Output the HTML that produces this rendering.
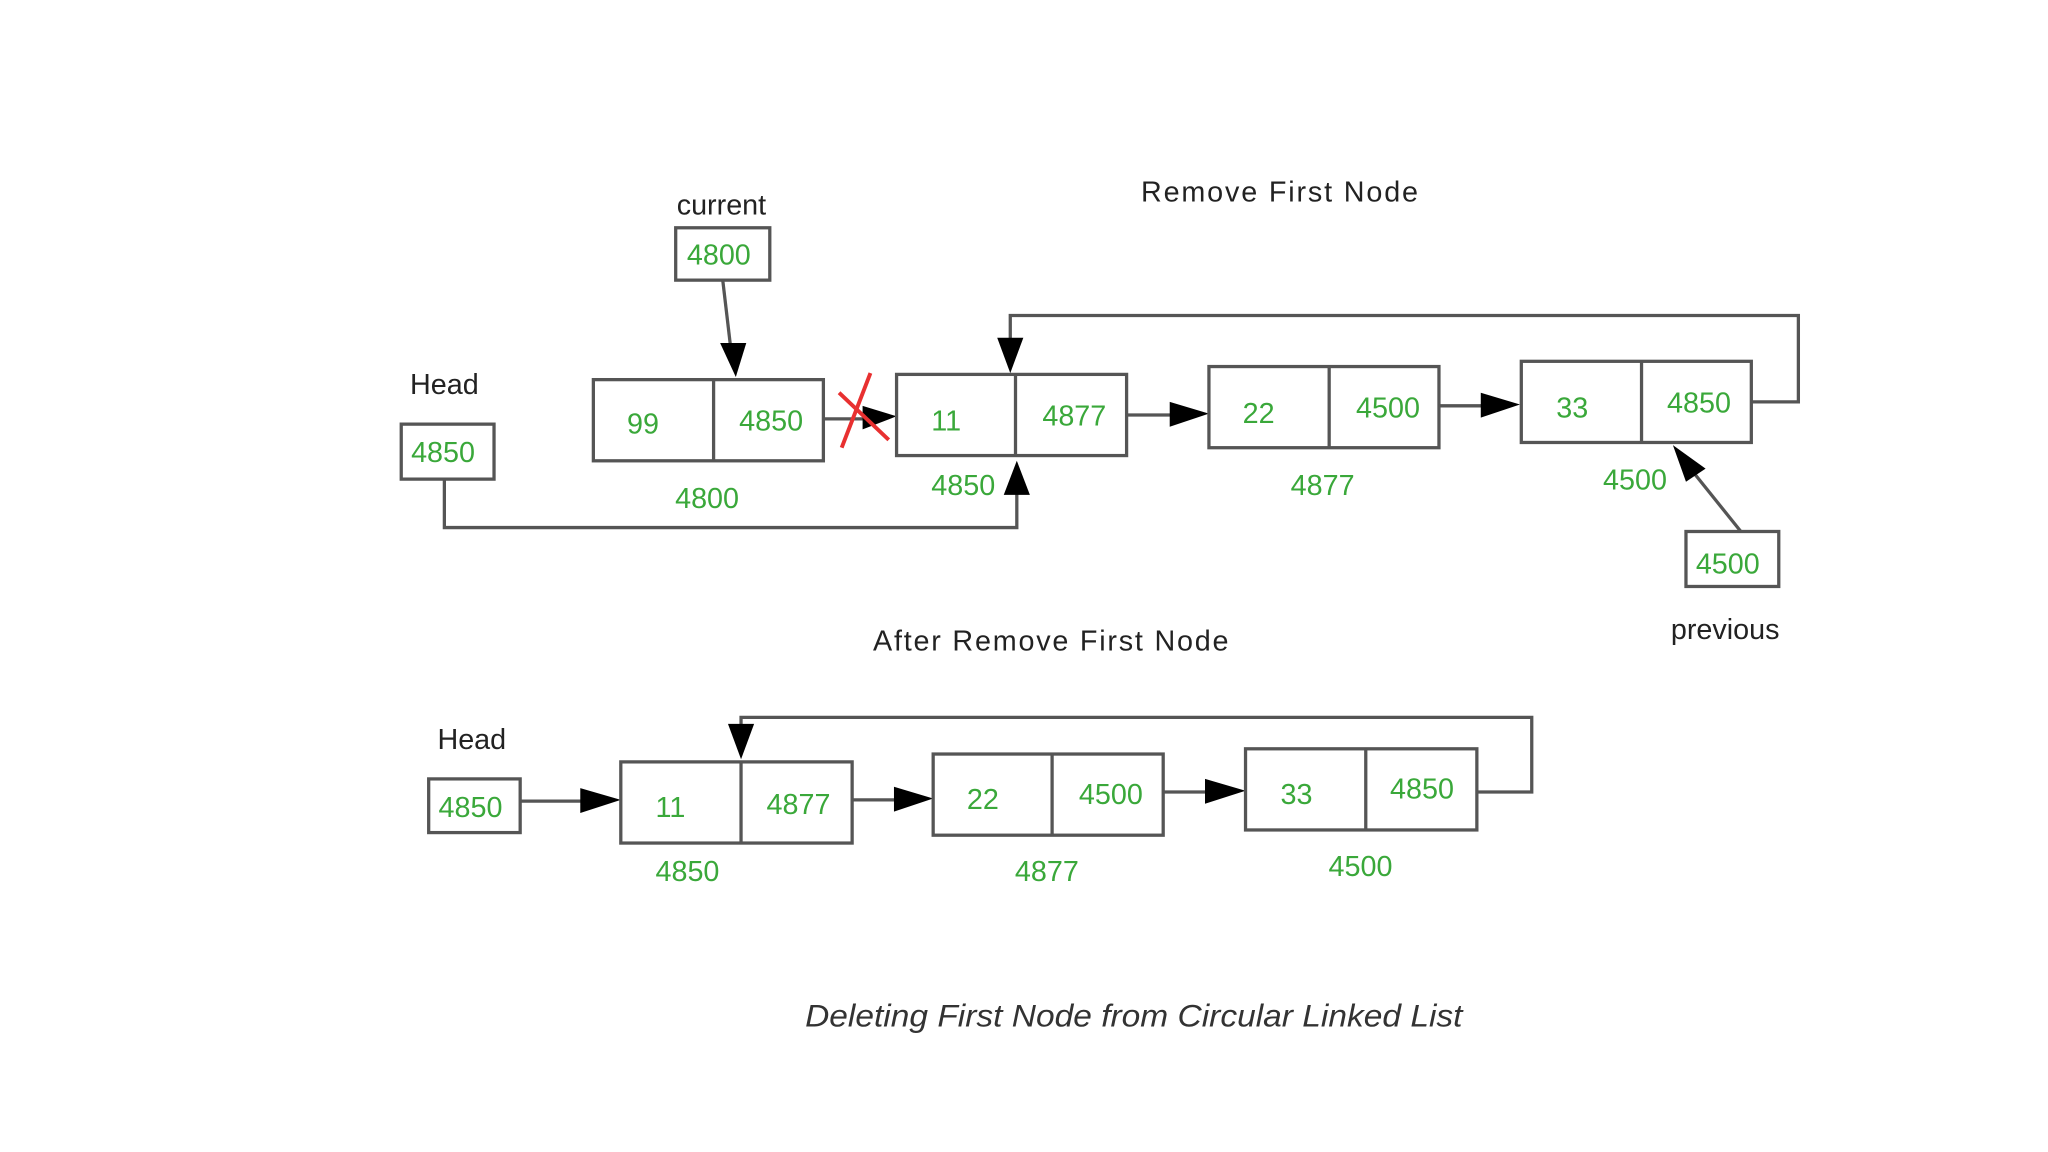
<!DOCTYPE html>
<html><head><meta charset="utf-8"><style>
html,body{margin:0;padding:0;background:#fff;}
svg{display:block;}
text{font-family:"Liberation Sans",sans-serif;}
.g{fill:#3aa83a;font-size:22px;}
.k{fill:#222;font-size:22px;}
.b{fill:#fff;stroke:#555;stroke-width:2.5;}
.l{stroke:#555;stroke-width:2.5;fill:none;}
</style></head><body>
<svg width="2048" height="1152" viewBox="0 0 1567 880" preserveAspectRatio="none" xmlns="http://www.w3.org/2000/svg">
<rect width="1567" height="880" fill="#fff"/>
<!-- TOP -->
<text class="k" x="873" y="154" textLength="212">Remove First Node</text>
<text class="k" x="552" y="164" text-anchor="middle">current</text>
<rect class="b" x="517" y="174" width="72" height="40"/>
<text class="g" x="550" y="202" text-anchor="middle">4800</text>
<line class="l" x1="553" y1="214" x2="559" y2="265"/>
<polygon points="551,262 571,262 563,288" fill="#000"/>

<text class="k" x="340" y="301" text-anchor="middle">Head</text>
<rect class="b" x="307" y="324" width="71" height="42"/>
<text class="g" x="339" y="353" text-anchor="middle">4850</text>
<polyline class="l" points="340,366 340,403 778,403 778,375"/>
<polygon points="768,378 788,378 778,352" fill="#000"/>

<rect class="b" x="454" y="290" width="176" height="62"/>
<line class="l" x1="546" y1="290" x2="546" y2="352"/>
<text class="g" x="492" y="331" text-anchor="middle">99</text>
<text class="g" x="590" y="329" text-anchor="middle">4850</text>
<text class="g" x="541" y="388" text-anchor="middle">4800</text>

<line class="l" x1="630" y1="320" x2="664" y2="320"/>
<polygon points="660,310 686,318 660,328" fill="#000"/>
<line x1="666" y1="285" x2="644" y2="342" stroke="#e83030" stroke-width="3"/>
<line x1="642" y1="300" x2="680" y2="336" stroke="#e83030" stroke-width="3"/>

<rect class="b" x="686" y="286" width="176" height="62"/>
<line class="l" x1="777" y1="286" x2="777" y2="348"/>
<text class="g" x="724" y="329" text-anchor="middle">11</text>
<text class="g" x="822" y="325" text-anchor="middle">4877</text>
<text class="g" x="737" y="378" text-anchor="middle">4850</text>

<line class="l" x1="862" y1="317" x2="900" y2="317"/>
<polygon points="895,307 925,316 895,326" fill="#000"/>

<rect class="b" x="925" y="280" width="176" height="62"/>
<line class="l" x1="1017" y1="280" x2="1017" y2="342"/>
<text class="g" x="963" y="323" text-anchor="middle">22</text>
<text class="g" x="1062" y="319" text-anchor="middle">4500</text>
<text class="g" x="1012" y="378" text-anchor="middle">4877</text>

<line class="l" x1="1101" y1="310" x2="1138" y2="310"/>
<polygon points="1133,300 1163,309 1133,319" fill="#000"/>

<rect class="b" x="1164" y="276" width="176" height="62"/>
<line class="l" x1="1256" y1="276" x2="1256" y2="338"/>
<text class="g" x="1203" y="319" text-anchor="middle">33</text>
<text class="g" x="1300" y="315" text-anchor="middle">4850</text>
<text class="g" x="1251" y="374" text-anchor="middle">4500</text>

<polyline class="l" points="1340,307 1376,307 1376,241 773,241 773,262"/>
<polygon points="763,258 783,258 773,285" fill="#000"/>

<rect class="b" x="1290" y="406" width="71" height="42"/>
<text class="g" x="1322" y="438" text-anchor="middle">4500</text>
<line class="l" x1="1332" y1="406" x2="1295" y2="360"/>
<polygon points="1280,340 1305,358 1290,368" fill="#000"/>
<text class="k" x="1320" y="488" text-anchor="middle">previous</text>

<!-- BOTTOM -->
<text class="k" x="668" y="497" textLength="272">After Remove First Node</text>
<text class="k" x="361" y="572" text-anchor="middle">Head</text>
<rect class="b" x="328" y="595" width="70" height="41"/>
<text class="g" x="360" y="624" text-anchor="middle">4850</text>
<line class="l" x1="398" y1="612" x2="448" y2="612"/>
<polygon points="444,602 475,611 444,621" fill="#000"/>

<rect class="b" x="475" y="582" width="177" height="62"/>
<line class="l" x1="567" y1="582" x2="567" y2="644"/>
<text class="g" x="513" y="624" text-anchor="middle">11</text>
<text class="g" x="611" y="622" text-anchor="middle">4877</text>
<text class="g" x="526" y="673" text-anchor="middle">4850</text>

<line class="l" x1="652" y1="611" x2="688" y2="611"/>
<polygon points="684,601 714,610 684,620" fill="#000"/>

<rect class="b" x="714" y="576" width="176" height="62"/>
<line class="l" x1="805" y1="576" x2="805" y2="638"/>
<text class="g" x="752" y="618" text-anchor="middle">22</text>
<text class="g" x="850" y="614" text-anchor="middle">4500</text>
<text class="g" x="801" y="673" text-anchor="middle">4877</text>

<line class="l" x1="890" y1="605" x2="926" y2="605"/>
<polygon points="922,595 953,604 922,614" fill="#000"/>

<rect class="b" x="953" y="572" width="177" height="62"/>
<line class="l" x1="1045" y1="572" x2="1045" y2="634"/>
<text class="g" x="992" y="614" text-anchor="middle">33</text>
<text class="g" x="1088" y="610" text-anchor="middle">4850</text>
<text class="g" x="1041" y="669" text-anchor="middle">4500</text>

<polyline class="l" points="1130,605 1172,605 1172,548 567,548 567,558"/>
<polygon points="557,553 577,553 567,580" fill="#000"/>

<text x="616" y="784" textLength="503" lengthAdjust="spacingAndGlyphs" style="font-style:italic;font-size:24px;fill:#333;">Deleting First Node from Circular Linked List</text>
</svg>
</body></html>
